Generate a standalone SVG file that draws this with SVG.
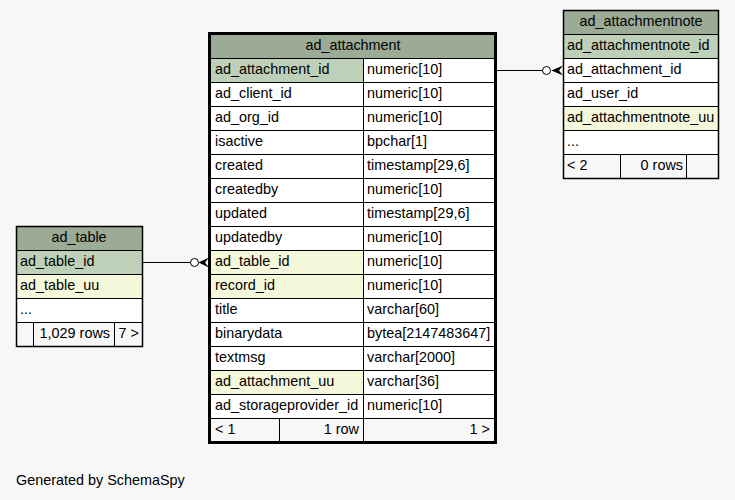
<svg xmlns="http://www.w3.org/2000/svg" width="735" height="500" viewBox="0 0 735 500">
<style>
text{font-family:"Liberation Sans",Arial,sans-serif;font-size:14.4px;fill:#000}
.c{text-anchor:middle}
.e{text-anchor:end}
.hd{fill:#9bab96}
.pk{fill:#bed1b8}
.ix{fill:#f4f7da}
.wh{fill:#ffffff}
.ft{fill:#f7f7f7}
.ln{stroke:#000;stroke-width:1;fill:none}
.ob{stroke:#000;stroke-width:3;fill:none}
.os{stroke:#000;stroke-width:1.5;fill:none}
</style>
<rect width="735" height="500" fill="#f7f7f7"/>

<g id="connectors">
  <line class="ln" x1="497" y1="70.5" x2="542.5" y2="70.5"/>
  <circle cx="546.5" cy="70.5" r="4" fill="#fff" stroke="#000" stroke-width="1"/>
  <polygon points="563,65.5 551.5,70.5 563,75.5 559,70.5" fill="#000"/>
  <line class="ln" x1="143" y1="262.5" x2="190.5" y2="262.5"/>
  <circle cx="194.5" cy="262.5" r="4" fill="#fff" stroke="#000" stroke-width="1"/>
  <polygon points="209,257.5 198.5,262.5 209,267.5 205,262.5" fill="#000"/>
</g>

<g id="ad_attachment">
  <rect class="hd" x="211" y="35" width="283" height="23.5"/>
  <rect class="pk" x="211" y="58.5" width="152.5" height="24"/>
  <rect class="wh" x="363.5" y="58.5" width="130.5" height="24"/>
  <rect class="wh" x="211" y="82.5" width="283" height="168"/>
  <rect class="ix" x="211" y="250.5" width="152.5" height="48"/>
  <rect class="wh" x="363.5" y="250.5" width="130.5" height="48"/>
  <rect class="wh" x="211" y="298.5" width="283" height="72"/>
  <rect class="ix" x="211" y="370.5" width="152.5" height="24"/>
  <rect class="wh" x="363.5" y="370.5" width="130.5" height="48"/>
  <rect class="wh" x="211" y="394.5" width="152.5" height="24"/>
  <rect class="ft" x="211" y="418.5" width="283" height="23"/>
  <path class="ln" d="M211,58.5H494M211,82.5H494M211,106.5H494M211,130.5H494M211,154.5H494M211,178.5H494M211,202.5H494M211,226.5H494M211,250.5H494M211,274.5H494M211,298.5H494M211,322.5H494M211,346.5H494M211,370.5H494M211,394.5H494M211,418.5H494M363.5,58.5V442M279.5,418.5V442"/>
  <rect class="ob" x="209.5" y="33.5" width="286" height="409"/>
  <text class="c" x="353" y="50">ad_attachment</text>
  <text x="215" y="74">ad_attachment_id</text><text x="367" y="74">numeric[10]</text>
  <text x="215" y="98">ad_client_id</text><text x="367" y="98">numeric[10]</text>
  <text x="215" y="122">ad_org_id</text><text x="367" y="122">numeric[10]</text>
  <text x="215" y="146">isactive</text><text x="367" y="146">bpchar[1]</text>
  <text x="215" y="170">created</text><text x="367" y="170">timestamp[29,6]</text>
  <text x="215" y="194">createdby</text><text x="367" y="194">numeric[10]</text>
  <text x="215" y="218">updated</text><text x="367" y="218">timestamp[29,6]</text>
  <text x="215" y="242">updatedby</text><text x="367" y="242">numeric[10]</text>
  <text x="215" y="266">ad_table_id</text><text x="367" y="266">numeric[10]</text>
  <text x="215" y="290">record_id</text><text x="367" y="290">numeric[10]</text>
  <text x="215" y="314">title</text><text x="367" y="314">varchar[60]</text>
  <text x="215" y="338">binarydata</text><text x="367" y="338">bytea[2147483647]</text>
  <text x="215" y="362">textmsg</text><text x="367" y="362">varchar[2000]</text>
  <text x="215" y="386">ad_attachment_uu</text><text x="367" y="386">varchar[36]</text>
  <text x="215" y="410">ad_storageprovider_id</text><text x="367" y="410">numeric[10]</text>
  <text x="215" y="434">&lt; 1</text><text class="e" x="359" y="434">1 row</text><text class="e" x="490" y="434">1 &gt;</text>
</g>

<g id="ad_attachmentnote">
  <rect class="hd" x="564" y="11" width="154" height="23.5"/>
  <rect class="pk" x="564" y="34.5" width="154" height="24"/>
  <rect class="wh" x="564" y="58.5" width="154" height="48"/>
  <rect class="ix" x="564" y="106.5" width="154" height="24"/>
  <rect class="wh" x="564" y="130.5" width="154" height="24"/>
  <rect class="ft" x="564" y="154.5" width="154" height="24"/>
  <path class="ln" d="M563.5,34.5H718.5M563.5,58.5H718.5M563.5,82.5H718.5M563.5,106.5H718.5M563.5,130.5H718.5M563.5,154.5H718.5M620.5,154.5V178.5M686.5,154.5V178.5"/>
  <rect class="os" x="563.5" y="10.5" width="155" height="168"/>
  <text class="c" x="641" y="26">ad_attachmentnote</text>
  <text x="567" y="50">ad_attachmentnote_id</text>
  <text x="567" y="74">ad_attachment_id</text>
  <text x="567" y="98">ad_user_id</text>
  <text x="567" y="122">ad_attachmentnote_uu</text>
  <text x="567" y="146">...</text>
  <text x="567" y="170">&lt; 2</text><text class="e" x="683" y="170">0 rows</text>
</g>

<g id="ad_table">
  <rect class="hd" x="17" y="227" width="125" height="23.5"/>
  <rect class="pk" x="17" y="250.5" width="125" height="24"/>
  <rect class="ix" x="17" y="274.5" width="125" height="24"/>
  <rect class="wh" x="17" y="298.5" width="125" height="24"/>
  <rect class="ft" x="17" y="322.5" width="125" height="24"/>
  <path class="ln" d="M16.5,250.5H142.5M16.5,274.5H142.5M16.5,298.5H142.5M16.5,322.5H142.5M33.5,322.5V346.5M114.5,322.5V346.5"/>
  <rect class="os" x="16.5" y="226.5" width="126" height="120"/>
  <text class="c" x="79" y="242">ad_table</text>
  <text x="20" y="266">ad_table_id</text>
  <text x="20" y="290">ad_table_uu</text>
  <text x="20" y="314">...</text>
  <text class="e" x="110" y="338">1,029 rows</text><text class="e" x="139" y="338">7 &gt;</text>
</g>

<text x="16" y="485">Generated by SchemaSpy</text>
</svg>
